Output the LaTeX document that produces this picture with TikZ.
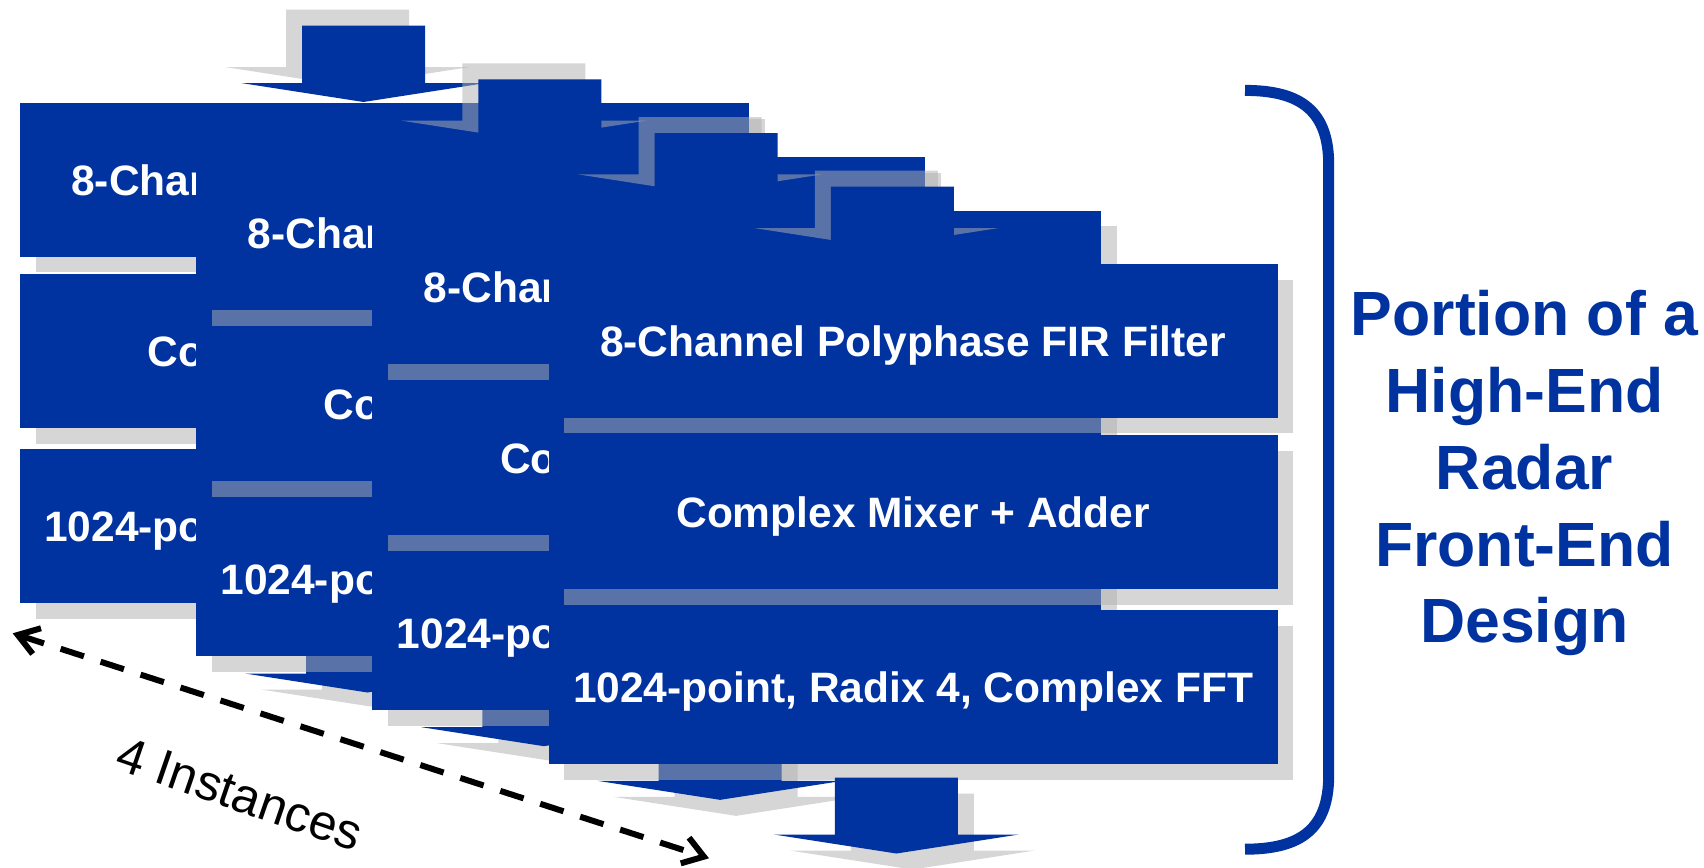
\documentclass[tikz,border=0pt]{standalone}
\usepackage{fontspec}
\setmainfont{Liberation Sans}
\usetikzlibrary{arrows.meta}
\definecolor{tiblue}{RGB}{0,51,160}
\definecolor{shgray}{RGB}{175,175,175}
\begin{document}
\begin{tikzpicture}[x=1pt,y=-1pt,
  shad/.style={fill=shgray,fill opacity=0.51},
  blk/.style={fill=tiblue},
  box/.style={fill=tiblue,minimum width=729pt,minimum height=153.3pt,inner sep=0pt,
    text=white,font=\fontsize{42.5}{50}\selectfont\bfseries,
    text height=30.4pt,text depth=0pt,anchor=north west},
  ttl/.style={text=tiblue,font=\fontsize{62.5}{75}\selectfont\bfseries,anchor=base,inner sep=0pt},
  brace/.style={draw=tiblue,line width=11pt},
  dashline/.style={line width=6pt,dash pattern=on 24.5pt off 17.5pt,
    {Straight Barb[length=20pt,width=27pt]}-{Straight Barb[length=20pt,width=27pt]}}
]
\useasboundingbox (0,0) rectangle (1704,867);
\clip (0,0) rectangle (1704,867);
\fill[white] (0,0) rectangle (1704,867);
\foreach \k in {0,1,2,3}{
  \pgfmathsetmacro{\L}{19.5+176.3*\k}
  \pgfmathsetmacro{\T}{53.67*\k}
  \pgfmathsetmacro{\R}{\L+729}
  % shadows of the three blocks
  \fill[shad] ({\L+16},{119+\T}) rectangle ({\R+16},{272.3+\T});
  \fill[shad] ({\L+16},{290+\T}) rectangle ({\R+16},{443.5+\T});
  \fill[shad] ({\L+16},{465+\T}) rectangle ({\R+16},{618.5+\T});
  % shadow of input arrow (up-left)
  \begin{scope}[shift={({\L+344-16},{\T-16})}]
    \fill[shad] (-61.5,25.7) -- (61.5,25.7) -- (61.5,83) -- (122.4,83) -- (0,102)
      -- (-122.4,83) -- (-61.5,83) -- cycle;
  \end{scope}
  % shadow of output arrow (down-right)
  \begin{scope}[shift={({\L+348+16},{\T+16})}]
    \fill[shad] (-61.5,616.5) -- (61.5,616.5) -- (61.5,673.5) -- (122.4,673.5) -- (0,692.5)
      -- (-122.4,673.5) -- (-61.5,673.5) -- cycle;
  \end{scope}
  % input arrow
  \begin{scope}[shift={({\L+344},{\T})}]
    \fill[blk] (-61.5,25.7) -- (61.5,25.7) -- (61.5,83) -- (122.4,83) -- (0,102)
      -- (-122.4,83) -- (-61.5,83) -- cycle;
  \end{scope}
  % output arrow
  \begin{scope}[shift={({\L+348},{\T})}]
    \fill[blk] (-61.5,616.5) -- (61.5,616.5) -- (61.5,673.5) -- (122.4,673.5) -- (0,692.5)
      -- (-122.4,673.5) -- (-61.5,673.5) -- cycle;
  \end{scope}
  % blocks
  \node[box] (fir\k) at (\L,{103+\T}) {8-Channel Polyphase FIR Filter};
  \node[box] (mix\k) at (\L,{274+\T}) {Complex Mixer + Adder};
  \node[box] (fft\k) at (\L,{449+\T}) {1024-point, Radix 4, Complex FFT};
}
% bracket
\draw[brace] (1245,90.4) .. controls (1302,90.4) and (1328.7,112) .. (1328.7,165)
  -- (1328.7,775) .. controls (1328.7,828) and (1302,849.2) .. (1245,849.2);
% title
\node[ttl] (t1) at (1524.5,335.7) {Portion of a};
\node[ttl] (t2) at (1524.5,412.5) {High-End};
\node[ttl] (t3) at (1524.5,489.2) {Radar};
\node[ttl] (t4) at (1524.5,566) {Front-End};
\node[ttl] (t5) at (1524.5,642.7) {Design};
% instances arrow
\coordinate (dl) at (12.7,633.3);
\coordinate (dr) at (709,858.3);
\draw[dashline] (dl) -- (dr);
\node[font=\fontsize{50}{60}\selectfont,rotate=-19,inner sep=0pt,text height=35.8pt,text depth=0pt] (inst) at (240,793) {4 Instances};
\end{tikzpicture}
\end{document}
